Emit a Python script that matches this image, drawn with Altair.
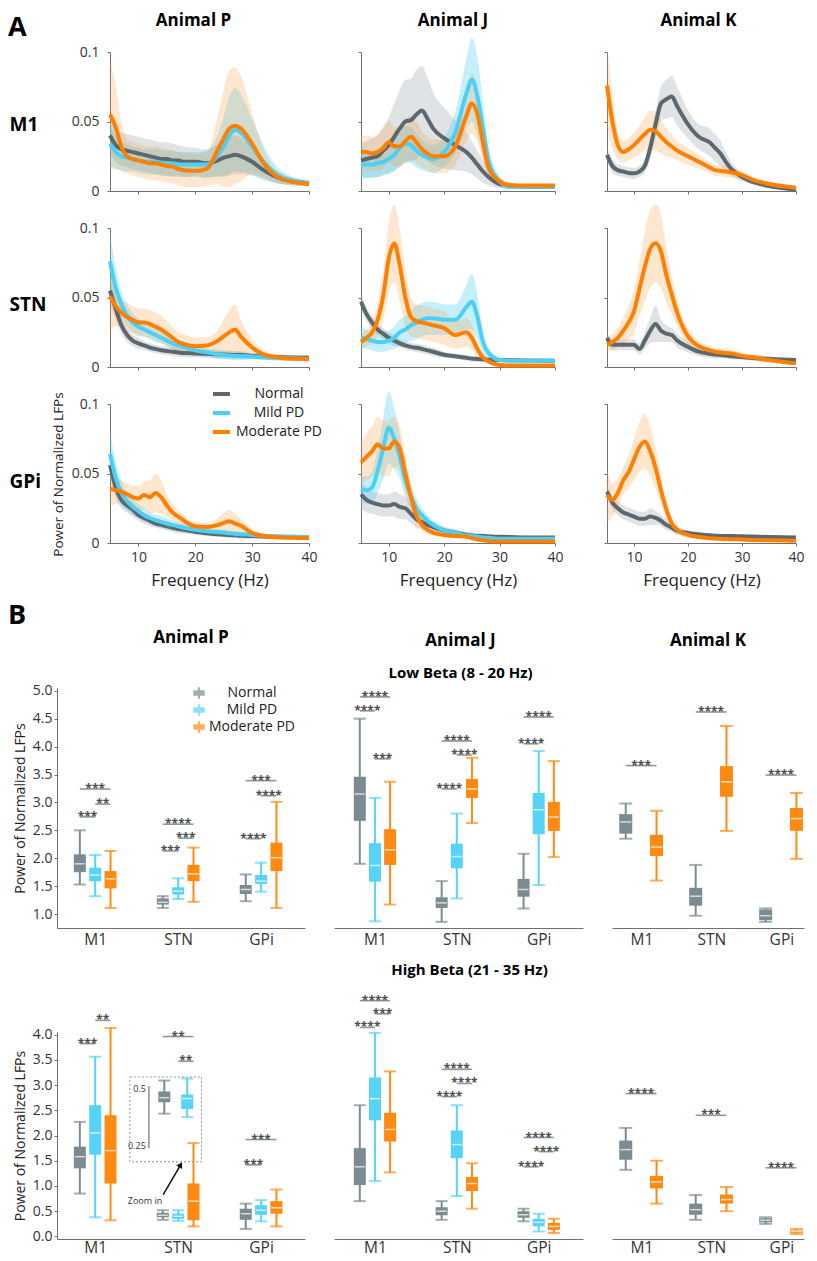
import altair as alt
import pandas as pd

FONT = "Open Sans"
GROUPS = ["Normal", "Mild PD", "Moderate PD"]
REGIONS = ["M1", "STN", "GPi"]
LINE_COLORS = {"Normal": "#5c686d", "Mild PD": "#4ccff4", "Moderate PD": "#ff7f00"}
BAND_COLORS = {"Normal": "#95a3a8", "Mild PD": "#4ccff4", "Moderate PD": "#ff9a35"}
BAND_OPACITY = {"Normal": 0.3, "Mild PD": 0.33, "Moderate PD": 0.24}
BOX_COLORS = {"Normal": "#7b8b90", "Mild PD": "#56d3f7", "Moderate PD": "#ff8a12"}

# ---------------- Panel A: spectra (mean and spread) ----------------
FREQ = [5, 6, 7, 8, 9, 10, 11, 12, 13, 14, 15, 16, 17, 18, 20, 22, 24, 25, 26, 27, 28, 30, 32, 35, 40]

P_M1_N = [0.040, 0.033, 0.030, 0.029, 0.028, 0.027, 0.026, 0.025, 0.024, 0.023, 0.023, 0.022, 0.022, 0.021, 0.021, 0.020, 0.022, 0.024, 0.025, 0.026, 0.025, 0.021, 0.015, 0.009, 0.0055]
P_M1_N_SD = [0.013, 0.012, 0.012, 0.012, 0.012, 0.012, 0.012, 0.012, 0.012, 0.012, 0.012, 0.012, 0.011, 0.011, 0.010, 0.010, 0.012, 0.013, 0.014, 0.014, 0.013, 0.010, 0.007, 0.004, 0.002]
P_M1_MI = [0.034, 0.028, 0.025, 0.024, 0.023, 0.022, 0.021, 0.021, 0.021, 0.0205, 0.020, 0.020, 0.019, 0.019, 0.019, 0.019, 0.026, 0.032, 0.040, 0.044, 0.042, 0.032, 0.021, 0.010, 0.0055]
P_M1_MI_SD = [0.015, 0.012, 0.010, 0.010, 0.009, 0.009, 0.009, 0.009, 0.009, 0.009, 0.009, 0.009, 0.009, 0.009, 0.009, 0.010, 0.015, 0.022, 0.028, 0.030, 0.028, 0.020, 0.012, 0.005, 0.002]
P_M1_MO = [0.055, 0.046, 0.032, 0.025, 0.023, 0.022, 0.021, 0.020, 0.020, 0.019, 0.018, 0.0175, 0.016, 0.015, 0.0145, 0.016, 0.030, 0.038, 0.045, 0.047, 0.045, 0.034, 0.020, 0.009, 0.005]
P_M1_MO_SD = [0.040, 0.030, 0.018, 0.012, 0.012, 0.012, 0.012, 0.012, 0.012, 0.012, 0.012, 0.012, 0.012, 0.012, 0.012, 0.012, 0.025, 0.035, 0.042, 0.042, 0.038, 0.022, 0.010, 0.004, 0.002]

J_M1_N = [0.022, 0.023, 0.024, 0.025, 0.029, 0.033, 0.039, 0.045, 0.050, 0.051, 0.055, 0.058, 0.052, 0.045, 0.038, 0.033, 0.028, 0.024, 0.019, 0.014, 0.010, 0.005, 0.004, 0.003, 0.003]
J_M1_N_SD = [0.012, 0.013, 0.014, 0.015, 0.017, 0.020, 0.024, 0.028, 0.030, 0.030, 0.032, 0.032, 0.030, 0.026, 0.022, 0.018, 0.014, 0.012, 0.010, 0.008, 0.006, 0.003, 0.002, 0.001, 0.001]
J_M1_MI = [0.019, 0.019, 0.019, 0.020, 0.021, 0.023, 0.026, 0.031, 0.034, 0.033, 0.029, 0.026, 0.024, 0.023, 0.028, 0.042, 0.070, 0.080, 0.068, 0.045, 0.022, 0.007, 0.003, 0.003, 0.003]
J_M1_MI_SD = [0.010, 0.010, 0.010, 0.010, 0.010, 0.011, 0.012, 0.013, 0.013, 0.013, 0.012, 0.011, 0.010, 0.010, 0.011, 0.015, 0.025, 0.030, 0.028, 0.020, 0.010, 0.004, 0.002, 0.001, 0.001]
J_M1_MO = [0.028, 0.028, 0.027, 0.028, 0.031, 0.035, 0.032, 0.032, 0.036, 0.039, 0.035, 0.030, 0.027, 0.025, 0.025, 0.032, 0.054, 0.063, 0.055, 0.035, 0.017, 0.007, 0.004, 0.004, 0.004]
J_M1_MO_SD = [0.012, 0.012, 0.012, 0.013, 0.014, 0.015, 0.014, 0.014, 0.015, 0.016, 0.015, 0.013, 0.012, 0.012, 0.012, 0.013, 0.018, 0.022, 0.020, 0.014, 0.008, 0.003, 0.002, 0.001, 0.001]

K_M1_N = [0.026, 0.018, 0.015, 0.014, 0.013, 0.0127, 0.014, 0.018, 0.031, 0.048, 0.063, 0.066, 0.068, 0.061, 0.048, 0.039, 0.035, 0.031, 0.027, 0.021, 0.016, 0.010, 0.0065, 0.0035, 0.001]
K_M1_N_SD = [0.005, 0.005, 0.004, 0.004, 0.004, 0.004, 0.004, 0.005, 0.008, 0.010, 0.012, 0.014, 0.015, 0.014, 0.010, 0.009, 0.010, 0.010, 0.009, 0.007, 0.005, 0.003, 0.002, 0.001, 0.001]
K_M1_MO = [0.076, 0.050, 0.033, 0.028, 0.030, 0.033, 0.037, 0.041, 0.044, 0.043, 0.039, 0.035, 0.032, 0.029, 0.025, 0.021, 0.017, 0.015, 0.0145, 0.014, 0.0135, 0.0115, 0.008, 0.005, 0.0024]
K_M1_MO_SD = [0.030, 0.020, 0.010, 0.008, 0.008, 0.009, 0.010, 0.012, 0.014, 0.014, 0.012, 0.010, 0.008, 0.007, 0.006, 0.005, 0.004, 0.004, 0.004, 0.004, 0.004, 0.003, 0.002, 0.002, 0.001]

P_STN_N = [0.055, 0.042, 0.030, 0.023, 0.019, 0.017, 0.0155, 0.014, 0.013, 0.012, 0.0115, 0.011, 0.0105, 0.010, 0.0098, 0.0095, 0.009, 0.009, 0.0088, 0.0086, 0.0086, 0.008, 0.0075, 0.007, 0.0067]
P_STN_N_SD = [0.010, 0.008, 0.006, 0.005, 0.004, 0.004, 0.003, 0.003, 0.003, 0.003, 0.003, 0.003, 0.003, 0.003, 0.003, 0.003, 0.003, 0.003, 0.003, 0.003, 0.003, 0.002, 0.002, 0.002, 0.002]
P_STN_MI = [0.076, 0.057, 0.045, 0.037, 0.032, 0.029, 0.027, 0.025, 0.023, 0.021, 0.019, 0.017, 0.0155, 0.0145, 0.012, 0.0105, 0.009, 0.0086, 0.0082, 0.008, 0.0078, 0.0075, 0.007, 0.0065, 0.006]
P_STN_MI_SD = [0.020, 0.015, 0.010, 0.008, 0.007, 0.006, 0.005, 0.005, 0.005, 0.004, 0.004, 0.004, 0.004, 0.004, 0.003, 0.003, 0.003, 0.003, 0.003, 0.003, 0.003, 0.002, 0.002, 0.002, 0.002]
P_STN_MO = [0.051, 0.044, 0.039, 0.036, 0.034, 0.032, 0.032, 0.031, 0.029, 0.027, 0.024, 0.021, 0.018, 0.0165, 0.015, 0.0155, 0.019, 0.022, 0.025, 0.027, 0.022, 0.014, 0.009, 0.0067, 0.0058]
P_STN_MO_SD = [0.025, 0.015, 0.010, 0.010, 0.010, 0.010, 0.010, 0.010, 0.010, 0.010, 0.009, 0.008, 0.007, 0.007, 0.006, 0.006, 0.008, 0.012, 0.016, 0.018, 0.012, 0.006, 0.003, 0.002, 0.002]

J_STN_N = [0.047, 0.038, 0.032, 0.027, 0.024, 0.021, 0.019, 0.017, 0.0155, 0.0145, 0.0138, 0.013, 0.012, 0.011, 0.0088, 0.0078, 0.0066, 0.006, 0.0058, 0.0055, 0.0052, 0.005, 0.0048, 0.0046, 0.0045]
J_STN_N_SD = [0.006, 0.005, 0.005, 0.004, 0.004, 0.004, 0.004, 0.003, 0.003, 0.003, 0.003, 0.003, 0.003, 0.003, 0.002, 0.002, 0.002, 0.002, 0.002, 0.002, 0.002, 0.001, 0.001, 0.001, 0.001]
J_STN_MI = [0.021, 0.020, 0.019, 0.018, 0.018, 0.019, 0.021, 0.025, 0.027, 0.030, 0.032, 0.034, 0.035, 0.035, 0.034, 0.034, 0.043, 0.047, 0.036, 0.018, 0.010, 0.005, 0.0045, 0.0045, 0.0045]
J_STN_MI_SD = [0.007, 0.007, 0.007, 0.007, 0.007, 0.007, 0.008, 0.009, 0.010, 0.011, 0.012, 0.012, 0.012, 0.012, 0.011, 0.011, 0.016, 0.020, 0.016, 0.008, 0.004, 0.002, 0.001, 0.001, 0.001]
J_STN_MO = [0.018, 0.021, 0.025, 0.034, 0.051, 0.078, 0.089, 0.073, 0.050, 0.036, 0.033, 0.032, 0.031, 0.030, 0.028, 0.023, 0.025, 0.021, 0.013, 0.007, 0.004, 0.0015, 0.001, 0.001, 0.001]
J_STN_MO_SD = [0.005, 0.006, 0.008, 0.012, 0.018, 0.025, 0.028, 0.026, 0.020, 0.014, 0.012, 0.012, 0.012, 0.012, 0.012, 0.010, 0.010, 0.009, 0.006, 0.003, 0.002, 0.001, 0.001, 0.001, 0.001]

K_STN_N = [0.021, 0.016, 0.016, 0.016, 0.016, 0.016, 0.013, 0.019, 0.026, 0.031, 0.026, 0.024, 0.023, 0.019, 0.0145, 0.011, 0.0095, 0.009, 0.0087, 0.0082, 0.0078, 0.0072, 0.0065, 0.0058, 0.005]
K_STN_N_SD = [0.004, 0.004, 0.004, 0.004, 0.004, 0.004, 0.004, 0.006, 0.009, 0.013, 0.008, 0.006, 0.005, 0.005, 0.004, 0.003, 0.003, 0.003, 0.002, 0.002, 0.002, 0.002, 0.002, 0.002, 0.001]
K_STN_MO = [0.016, 0.018, 0.021, 0.026, 0.032, 0.040, 0.056, 0.072, 0.085, 0.089, 0.083, 0.066, 0.052, 0.039, 0.022, 0.015, 0.012, 0.011, 0.0105, 0.010, 0.0098, 0.008, 0.007, 0.005, 0.0026]
K_STN_MO_SD = [0.005, 0.006, 0.007, 0.009, 0.012, 0.016, 0.020, 0.025, 0.028, 0.028, 0.026, 0.020, 0.014, 0.010, 0.006, 0.004, 0.003, 0.003, 0.003, 0.003, 0.003, 0.002, 0.002, 0.002, 0.001]

P_GPI_N = [0.056, 0.040, 0.031, 0.027, 0.024, 0.020, 0.018, 0.016, 0.014, 0.013, 0.012, 0.011, 0.010, 0.0095, 0.008, 0.007, 0.0063, 0.006, 0.0057, 0.0055, 0.0052, 0.005, 0.0047, 0.0045, 0.0043]
P_GPI_N_SD = [0.010, 0.008, 0.006, 0.005, 0.005, 0.004, 0.004, 0.004, 0.003, 0.003, 0.003, 0.003, 0.003, 0.003, 0.002, 0.002, 0.002, 0.002, 0.002, 0.002, 0.002, 0.002, 0.001, 0.001, 0.001]
P_GPI_MI = [0.064, 0.047, 0.036, 0.030, 0.026, 0.023, 0.020, 0.018, 0.0165, 0.0152, 0.014, 0.013, 0.012, 0.011, 0.0095, 0.0085, 0.0078, 0.0075, 0.007, 0.0066, 0.0063, 0.0058, 0.0052, 0.0047, 0.0043]
P_GPI_MI_SD = [0.016, 0.012, 0.009, 0.007, 0.006, 0.005, 0.005, 0.004, 0.004, 0.004, 0.004, 0.003, 0.003, 0.003, 0.003, 0.002, 0.002, 0.002, 0.002, 0.002, 0.002, 0.002, 0.001, 0.001, 0.001]
P_GPI_MO = [0.039, 0.038, 0.037, 0.035, 0.033, 0.032, 0.0345, 0.033, 0.036, 0.033, 0.027, 0.022, 0.019, 0.016, 0.012, 0.0115, 0.013, 0.0145, 0.0157, 0.014, 0.0125, 0.0072, 0.005, 0.004, 0.0036]
P_GPI_MO_SD = [0.012, 0.010, 0.008, 0.008, 0.008, 0.009, 0.010, 0.012, 0.014, 0.012, 0.008, 0.006, 0.005, 0.004, 0.003, 0.003, 0.005, 0.007, 0.008, 0.007, 0.005, 0.003, 0.002, 0.001, 0.001]

J_GPI_N = [0.035, 0.031, 0.029, 0.028, 0.027, 0.027, 0.028, 0.026, 0.025, 0.021, 0.017, 0.015, 0.013, 0.0115, 0.009, 0.0075, 0.006, 0.0055, 0.005, 0.005, 0.0047, 0.0045, 0.0043, 0.004, 0.004]
J_GPI_N_SD = [0.010, 0.009, 0.008, 0.008, 0.008, 0.008, 0.009, 0.009, 0.008, 0.007, 0.006, 0.005, 0.004, 0.004, 0.003, 0.002, 0.002, 0.002, 0.002, 0.002, 0.002, 0.001, 0.001, 0.001, 0.001]
J_GPI_MI = [0.039, 0.038, 0.040, 0.052, 0.068, 0.083, 0.075, 0.062, 0.045, 0.034, 0.025, 0.020, 0.016, 0.013, 0.009, 0.0075, 0.0055, 0.005, 0.0045, 0.004, 0.0037, 0.003, 0.003, 0.003, 0.003]
J_GPI_MI_SD = [0.010, 0.010, 0.012, 0.016, 0.022, 0.026, 0.022, 0.016, 0.012, 0.009, 0.007, 0.005, 0.004, 0.003, 0.002, 0.002, 0.001, 0.001, 0.001, 0.001, 0.001, 0.001, 0.001, 0.001, 0.001]
J_GPI_MO = [0.058, 0.062, 0.066, 0.071, 0.068, 0.068, 0.073, 0.068, 0.050, 0.033, 0.020, 0.013, 0.0095, 0.0075, 0.0058, 0.005, 0.0045, 0.0035, 0.0025, 0.002, 0.0015, 0.001, 0.001, 0.001, 0.001]
J_GPI_MO_SD = [0.015, 0.017, 0.018, 0.020, 0.020, 0.020, 0.018, 0.016, 0.013, 0.010, 0.006, 0.004, 0.003, 0.002, 0.002, 0.001, 0.001, 0.001, 0.001, 0.001, 0.001, 0.001, 0.001, 0.001, 0.001]

K_GPI_N = [0.037, 0.029, 0.025, 0.022, 0.0205, 0.019, 0.0175, 0.0175, 0.019, 0.018, 0.016, 0.013, 0.011, 0.0088, 0.0072, 0.0062, 0.0055, 0.0053, 0.0051, 0.005, 0.005, 0.0048, 0.0046, 0.0043, 0.004]
K_GPI_N_SD = [0.005, 0.005, 0.005, 0.005, 0.005, 0.005, 0.005, 0.005, 0.006, 0.005, 0.004, 0.004, 0.003, 0.003, 0.002, 0.002, 0.001, 0.001, 0.001, 0.001, 0.001, 0.001, 0.001, 0.001, 0.001]
K_GPI_MO = [0.0345, 0.031, 0.036, 0.045, 0.051, 0.060, 0.069, 0.073, 0.066, 0.054, 0.038, 0.024, 0.014, 0.0095, 0.0058, 0.0043, 0.0035, 0.0032, 0.003, 0.0028, 0.0027, 0.0025, 0.0022, 0.002, 0.0017]
K_GPI_MO_SD = [0.020, 0.012, 0.010, 0.010, 0.012, 0.015, 0.018, 0.020, 0.018, 0.015, 0.010, 0.007, 0.004, 0.003, 0.002, 0.001, 0.001, 0.001, 0.001, 0.001, 0.001, 0.001, 0.001, 0.001, 0.001]

SPECTRA = {
    ("P", "M1"): [("Normal", P_M1_N, P_M1_N_SD), ("Mild PD", P_M1_MI, P_M1_MI_SD), ("Moderate PD", P_M1_MO, P_M1_MO_SD)],
    ("J", "M1"): [("Normal", J_M1_N, J_M1_N_SD), ("Mild PD", J_M1_MI, J_M1_MI_SD), ("Moderate PD", J_M1_MO, J_M1_MO_SD)],
    ("K", "M1"): [("Normal", K_M1_N, K_M1_N_SD), ("Moderate PD", K_M1_MO, K_M1_MO_SD)],
    ("P", "STN"): [("Normal", P_STN_N, P_STN_N_SD), ("Mild PD", P_STN_MI, P_STN_MI_SD), ("Moderate PD", P_STN_MO, P_STN_MO_SD)],
    ("J", "STN"): [("Normal", J_STN_N, J_STN_N_SD), ("Mild PD", J_STN_MI, J_STN_MI_SD), ("Moderate PD", J_STN_MO, J_STN_MO_SD)],
    ("K", "STN"): [("Normal", K_STN_N, K_STN_N_SD), ("Moderate PD", K_STN_MO, K_STN_MO_SD)],
    ("P", "GPi"): [("Normal", P_GPI_N, P_GPI_N_SD), ("Mild PD", P_GPI_MI, P_GPI_MI_SD), ("Moderate PD", P_GPI_MO, P_GPI_MO_SD)],
    ("J", "GPi"): [("Normal", J_GPI_N, J_GPI_N_SD), ("Mild PD", J_GPI_MI, J_GPI_MI_SD), ("Moderate PD", J_GPI_MO, J_GPI_MO_SD)],
    ("K", "GPi"): [("Normal", K_GPI_N, K_GPI_N_SD), ("Moderate PD", K_GPI_MO, K_GPI_MO_SD)],
}

# ---------------- Panel B: box statistics (lo, q1, median, q3, hi) ----------------
P_LOW = [
    ("M1", "Normal", 1.53, 1.75, 1.90, 2.07, 2.50), ("M1", "Mild PD", 1.32, 1.59, 1.70, 1.83, 2.06), ("M1", "Moderate PD", 1.11, 1.46, 1.63, 1.77, 2.13),
    ("STN", "Normal", 1.11, 1.17, 1.21, 1.28, 1.32), ("STN", "Mild PD", 1.27, 1.35, 1.41, 1.48, 1.64), ("STN", "Moderate PD", 1.22, 1.59, 1.72, 1.88, 2.19),
    ("GPi", "Normal", 1.23, 1.36, 1.44, 1.52, 1.71), ("GPi", "Mild PD", 1.40, 1.54, 1.59, 1.70, 1.92), ("GPi", "Moderate PD", 1.11, 1.77, 2.01, 2.28, 3.01),
]
P_LOW_SIG = [
    ("M1", "Normal", "Moderate PD", 3.24, "***"), ("M1", "Mild PD", "Moderate PD", 2.97, "**"), ("M1", "Normal", "Mild PD", 2.74, "***"),
    ("STN", "Normal", "Moderate PD", 2.61, "****"), ("STN", "Mild PD", "Moderate PD", 2.36, "***"), ("STN", "Normal", "Mild PD", 2.13, "***"),
    ("GPi", "Normal", "Moderate PD", 3.39, "***"), ("GPi", "Mild PD", "Moderate PD", 3.12, "****"), ("GPi", "Normal", "Mild PD", 2.35, "****"),
]
J_LOW = [
    ("M1", "Normal", 1.90, 2.67, 3.15, 3.46, 4.50), ("M1", "Mild PD", 0.87, 1.58, 1.87, 2.27, 3.08), ("M1", "Moderate PD", 1.17, 1.88, 2.15, 2.52, 3.37),
    ("STN", "Normal", 0.86, 1.11, 1.20, 1.30, 1.59), ("STN", "Mild PD", 1.28, 1.82, 2.03, 2.26, 2.80), ("STN", "Moderate PD", 2.63, 3.08, 3.24, 3.42, 3.80),
    ("GPi", "Normal", 1.10, 1.31, 1.44, 1.63, 2.08), ("GPi", "Mild PD", 1.52, 2.43, 2.87, 3.17, 3.92), ("GPi", "Moderate PD", 2.02, 2.49, 2.74, 3.01, 3.74),
]
J_LOW_SIG = [
    ("M1", "Normal", "Moderate PD", 4.89, "****"), ("M1", "Normal", "Mild PD", 4.64, "****"), ("M1", "Mild PD", "Moderate PD", 3.78, "***"),
    ("STN", "Normal", "Moderate PD", 4.10, "****"), ("STN", "Mild PD", "Moderate PD", 3.85, "****"), ("STN", "Normal", "Mild PD", 3.24, "****"),
    ("GPi", "Normal", "Moderate PD", 4.53, "****"), ("GPi", "Normal", "Mild PD", 4.05, "****"),
]
K_LOW = [
    ("M1", "Normal", 2.35, 2.44, 2.65, 2.79, 2.98), ("M1", "Moderate PD", 1.60, 2.04, 2.20, 2.42, 2.85),
    ("STN", "Normal", 0.97, 1.15, 1.32, 1.47, 1.88), ("STN", "Moderate PD", 2.49, 3.10, 3.37, 3.65, 4.37),
    ("GPi", "Normal", 0.86, 0.89, 0.97, 1.08, 1.10), ("GPi", "Moderate PD", 1.99, 2.49, 2.71, 2.90, 3.17),
]
K_LOW_SIG = [("M1", "Normal", "Moderate PD", 3.66, "***"), ("STN", "Normal", "Moderate PD", 4.62, "****"), ("GPi", "Normal", "Moderate PD", 3.49, "****")]

P_HIGH = [
    ("M1", "Normal", 0.85, 1.35, 1.58, 1.78, 2.27), ("M1", "Mild PD", 0.38, 1.62, 2.05, 2.60, 3.56), ("M1", "Moderate PD", 0.32, 1.05, 1.70, 2.40, 4.13),
    ("STN", "Normal", 0.33, 0.38, 0.42, 0.47, 0.52), ("STN", "Mild PD", 0.31, 0.35, 0.40, 0.45, 0.52), ("STN", "Moderate PD", 0.20, 0.32, 0.70, 1.05, 1.85),
    ("GPi", "Normal", 0.15, 0.33, 0.45, 0.55, 0.65), ("GPi", "Mild PD", 0.30, 0.43, 0.52, 0.62, 0.72), ("GPi", "Moderate PD", 0.20, 0.45, 0.57, 0.70, 0.93),
]
P_HIGH_SIG = [
    ("M1", "Mild PD", "Moderate PD", 4.28, "**"), ("M1", "Normal", "Mild PD", 3.82, "***"),
    ("STN", "Normal", "Moderate PD", 3.96, "**"), ("STN", "Mild PD", "Moderate PD", 3.47, "**"),
    ("GPi", "Normal", "Moderate PD", 1.92, "***"), ("GPi", "Normal", "Mild PD", 1.42, "***"),
]
J_HIGH = [
    ("M1", "Normal", 0.70, 1.02, 1.38, 1.75, 2.60), ("M1", "Mild PD", 1.10, 2.30, 2.73, 3.15, 4.03), ("M1", "Moderate PD", 1.27, 1.88, 2.12, 2.45, 3.27),
    ("STN", "Normal", 0.33, 0.42, 0.50, 0.58, 0.70), ("STN", "Mild PD", 0.80, 1.55, 1.82, 2.10, 2.60), ("STN", "Moderate PD", 0.55, 0.90, 1.05, 1.18, 1.45),
    ("GPi", "Normal", 0.30, 0.37, 0.43, 0.50, 0.55), ("GPi", "Mild PD", 0.10, 0.20, 0.28, 0.35, 0.45), ("GPi", "Moderate PD", 0.07, 0.13, 0.20, 0.27, 0.35),
]
J_HIGH_SIG = [
    ("M1", "Normal", "Moderate PD", 4.67, "****"), ("M1", "Mild PD", "Moderate PD", 4.41, "***"), ("M1", "Normal", "Mild PD", 4.14, "****"),
    ("STN", "Normal", "Moderate PD", 3.31, "****"), ("STN", "Mild PD", "Moderate PD", 3.03, "****"), ("STN", "Normal", "Mild PD", 2.77, "****"),
    ("GPi", "Normal", "Moderate PD", 1.96, "****"), ("GPi", "Mild PD", "Moderate PD", 1.68, "****"), ("GPi", "Normal", "Mild PD", 1.38, "****"),
]
K_HIGH = [
    ("M1", "Normal", 1.32, 1.52, 1.72, 1.90, 2.15), ("M1", "Moderate PD", 0.65, 0.95, 1.08, 1.20, 1.50),
    ("STN", "Normal", 0.33, 0.43, 0.53, 0.65, 0.82), ("STN", "Moderate PD", 0.50, 0.65, 0.73, 0.83, 0.98),
    ("GPi", "Normal", 0.25, 0.28, 0.32, 0.36, 0.38), ("GPi", "Moderate PD", 0.05, 0.07, 0.10, 0.12, 0.15),
]
K_HIGH_SIG = [("M1", "Normal", "Moderate PD", 2.83, "****"), ("STN", "Normal", "Moderate PD", 2.40, "***"), ("GPi", "Normal", "Moderate PD", 1.36, "****")]

# zoomed inset of the P / STN high-beta boxes (inset axis 0.25 .. 0.5)
INSET_BOXES = [("Normal", 0.39, 0.44, 0.46, 0.487, 0.535), ("Mild PD", 0.375, 0.41, 0.456, 0.474, 0.544)]
INSET_TICKS = [0.25, 0.5]

# ---------------- layout constants ----------------
OFF3 = {"Normal": -0.185, "Mild PD": 0.0, "Moderate PD": 0.185}
OFF2 = {"Normal": -0.225, "Moderate PD": 0.215}
LOW_DOMAIN = [0.75, 5.05]
HIGH_DOMAIN = [-0.05, 4.05]
BOX_ICON = "M-1,-0.5H1V0.5H-1Z M-0.18,-1H0.18V-0.5H-0.18Z M-0.18,0.5H0.18V1H-0.18Z"
HA = 139


def grid(charts, columns, row_sp, col_sp):
    return alt.concat(*charts, columns=columns, spacing={"row": row_sp, "column": col_sp},
                      bounds="flush", align="each").resolve_scale(color="independent")


def spacer(title=None):
    props = dict(width=1, height=1)
    if title is not None:
        props["title"] = title
    return alt.Chart(pd.DataFrame({"v": [0]})).mark_point(opacity=0, size=0).properties(**props)


def spectra_panel(series, width, x_labels, y_labels, title=None, title_dx=0, row_label=None,
                  row_label_y=70, power_title=False, legend=None):
    H = HA
    xsc = alt.Scale(domain=[5, 40], nice=False, zero=False)
    ysc = alt.Scale(domain=[0, 0.1], nice=False, zero=False)
    xax = alt.Axis(values=[10, 20, 30, 40], labels=x_labels, tickSize=3, labelFlush=False,
                   title="Frequency (Hz)" if x_labels else None, labelFontSize=14, labelPadding=4,
                   titleFontSize=17, titleFontWeight="normal", titlePadding=8, grid=False)
    X = alt.X("freq:Q", scale=xsc, axis=xax)
    ykw = dict(values=[0, 0.05, 0.1], format="~g", labels=y_labels, tickSize=3, labelFontSize=14,
               labelPadding=8, grid=False, orient="left")
    rowkw = dict(titleAngle=0, titleX=-101, titleY=row_label_y, titleAlign="left", titleBaseline="middle",
                 titleFontSize=19, titleFontWeight="bold", titleColor="#000000")
    label_ax = None
    if power_title:
        main_ax = alt.Axis(title="Power of Normalized LFPs", titleAngle=270, titleX=-52, titleY=70,
                           titleAlign="center", titleBaseline="middle", titleFontSize=13.5,
                           titleFontWeight="normal", **ykw)
        label_ax = alt.Axis(title=row_label, domain=False, ticks=False, labels=False, grid=False,
                            orient="left", **rowkw)
    elif row_label:
        main_ax = alt.Axis(title=row_label, **ykw, **rowkw)
    else:
        main_ax = alt.Axis(title=None, **ykw)
    indep = label_ax is not None
    bands, lines = [], []
    top = 0.0
    for i, (g, mean, sd) in enumerate(series):
        df = pd.DataFrame({"freq": FREQ, "mean": mean,
                           "lo": [max(m - s, 0.0) for m, s in zip(mean, sd)],
                           "hi": [m + s for m, s in zip(mean, sd)], "group": g})
        top = max(top, df["hi"].max())
        if indep:
            bax = label_ax if i == 0 else None
            lax = main_ax if i == 0 else None
        else:
            bax = lax = main_ax
        bands.append(alt.Chart(df).mark_area(color=BAND_COLORS[g], opacity=BAND_OPACITY[g], interpolate="monotone")
                     .encode(x=X, y=alt.Y("lo:Q", scale=ysc, axis=bax), y2="hi:Q"))
        if legend is not None:
            ln = alt.Chart(df).mark_line(strokeWidth=4, interpolate="monotone").encode(
                x=X, y=alt.Y("mean:Q", scale=ysc, axis=lax),
                color=alt.Color("group:N", scale=alt.Scale(domain=GROUPS, range=[LINE_COLORS[k] for k in GROUPS]),
                                legend=legend))
        else:
            ln = alt.Chart(df).mark_line(strokeWidth=4, interpolate="monotone", color=LINE_COLORS[g]).encode(
                x=X, y=alt.Y("mean:Q", scale=ysc, axis=lax))
        lines.append(ln)
    ch = alt.layer(*bands, *lines)
    if indep:
        ch = ch.resolve_scale(y="independent")
    props = dict(width=width, height=H)
    if title:
        overflow = max((top - 0.1) / 0.1 * H, 7.0 if y_labels else 0.0, 0.0)
        props["title"] = alt.TitleParams(title, fontSize=17, fontWeight="bold", color="#000000",
                                         offset=22 - overflow, dx=title_dx, frame="group", anchor="middle",
                                         baseline="top")
    return ch.properties(**props)


def box_panel(boxes, sigs, offsets, xdomain, width, height, ydomain, yvalues=None, title=None,
              legend=None, box_size=12, inset=False, label_pad=4):
    rows = []
    for reg, grp, lo, q1, med, q3, hi in boxes:
        rows.append(dict(x=REGIONS.index(reg) + offsets[grp], group=grp, hex=BOX_COLORS[grp],
                         lo=lo, q1=q1, med=med, q3=q3, hi=hi))
    df = pd.DataFrame(rows)
    xsc = alt.Scale(domain=xdomain, nice=False, zero=False)
    ysc = alt.Scale(domain=ydomain, nice=False, zero=False)
    xax = alt.Axis(values=[0, 1, 2], labelExpr="['M1','STN','GPi'][datum.value]", ticks=False, title=None,
                   labelFontSize=15.5, labelPadding=label_pad, grid=False)
    if yvalues is not None:
        yax = alt.Axis(values=yvalues, format=".1f", tickSize=3, labelFontSize=14, labelPadding=2,
                       title="Power of Normalized LFPs", titleFontSize=14, titleFontWeight="normal",
                       titleAngle=270, titleX=-44, titleY=height / 2, titleAlign="center",
                       titleBaseline="top", grid=False)
    else:
        yax = None
    X = alt.X("x:Q", scale=xsc, axis=xax)

    def Y(f):
        return alt.Y(f, scale=ysc, axis=yax)

    col = alt.Color("hex:N", scale=None)
    layers = []

    def box_layers(d, size):
        b = alt.Chart(d)
        out = [
            b.mark_rule(strokeWidth=2).encode(x=X, y=Y("lo:Q"), y2="hi:Q", color=col),
            b.mark_tick(orient="horizontal", size=size, thickness=2).encode(x=X, y=Y("lo:Q"), color=col),
            b.mark_tick(orient="horizontal", size=size, thickness=2).encode(x=X, y=Y("hi:Q"), color=col),
        ]
        return b, out

    base, lyr = box_layers(df, box_size)
    layers += lyr
    if legend is not None:
        bcol = alt.Color("group:N", scale=alt.Scale(domain=GROUPS, range=[BOX_COLORS[k] for k in GROUPS]),
                         legend=legend)
    else:
        bcol = col
    layers.append(base.mark_bar(size=box_size, orient="vertical").encode(x=X, y=Y("q1:Q"), y2="q3:Q", color=bcol))
    layers.append(base.mark_tick(orient="horizontal", size=box_size - 2, thickness=1.5, color="white")
                  .encode(x=X, y=Y("med:Q")))

    srows = []
    for reg, g1, g2, yv, lab in sigs:
        x1 = REGIONS.index(reg) + offsets[g1]
        x2 = REGIONS.index(reg) + offsets[g2]
        srows.append(dict(x1=x1, x2=x2, xm=(x1 + x2) / 2, y=yv, label=lab))
    sdf = pd.DataFrame(srows)
    sb = alt.Chart(sdf)
    layers.append(sb.mark_rule(color="#8c9a9f", strokeWidth=1.6).encode(
        x=alt.X("x1:Q", scale=xsc, axis=xax), x2="x2:Q", y=Y("y:Q")))
    layers.append(sb.mark_text(fontSize=12, fontWeight="bold", color="#4d4d4d", baseline="alphabetic", dy=4)
                  .encode(x=alt.X("xm:Q", scale=xsc, axis=xax), y=Y("y:Q"), text="label:N"))

    if inset:
        y0, k = 1.80, 4.52  # inset axis mapping: 0.25 -> 1.80, slope 4.52 per unit
        ixs = {"Normal": 0.833, "Mild PD": 1.109}
        irows = []
        for grp, lo, q1, med, q3, hi in INSET_BOXES:
            m = lambda v: y0 + (v - 0.25) * k
            irows.append(dict(x=ixs[grp], hex=BOX_COLORS[grp], lo=m(lo), q1=m(q1), med=m(med), q3=m(q3), hi=m(hi)))
        idf = pd.DataFrame(irows)
        ib, ilyr = box_layers(idf, box_size)
        layers += ilyr
        layers.append(ib.mark_bar(size=box_size, orient="vertical").encode(x=X, y=Y("q1:Q"), y2="q3:Q", color=col))
        layers.append(ib.mark_tick(orient="horizontal", size=box_size - 2, thickness=1.5, color="white")
                      .encode(x=X, y=Y("med:Q")))
        fdf = pd.DataFrame([dict(x1=0.418, x2=1.282, y1=1.48, y2=3.16)])
        layers.append(alt.Chart(fdf).mark_rect(fillOpacity=0, stroke="#8c9a9f", strokeDash=[2, 2], strokeWidth=1)
                      .encode(x=alt.X("x1:Q", scale=xsc, axis=xax), x2="x2:Q", y=Y("y1:Q"), y2="y2:Q"))
        adf = pd.DataFrame([dict(x=0.648, y1=y0 + (INSET_TICKS[0] - 0.25) * k - 0.05,
                                 y2=y0 + (INSET_TICKS[1] - 0.25) * k + 0.05)])
        layers.append(alt.Chart(adf).mark_rule(color="#555555", strokeWidth=1)
                      .encode(x=alt.X("x:Q", scale=xsc, axis=xax), y=Y("y1:Q"), y2="y2:Q"))
        tdf = pd.DataFrame([dict(x=0.61, y=y0 + (t - 0.25) * k, label=f"{t:g}") for t in INSET_TICKS])
        layers.append(alt.Chart(tdf).mark_text(fontSize=9, color="#333333", align="right", baseline="middle")
                      .encode(x=alt.X("x:Q", scale=xsc, axis=xax), y=Y("y:Q"), text="label:N"))
        ardf = pd.DataFrame([dict(x1=0.82, y1=0.83, x2=1.03, y2=1.42)])
        layers.append(alt.Chart(ardf).mark_rule(color="#111111", strokeWidth=1.5)
                      .encode(x=alt.X("x1:Q", scale=xsc, axis=xax), x2="x2:Q", y=Y("y1:Q"), y2="y2:Q"))
        layers.append(alt.Chart(ardf).mark_point(shape="triangle-up", filled=True, size=45, angle=31,
                                                 color="#111111", opacity=1)
                      .encode(x=alt.X("x2:Q", scale=xsc, axis=xax), y=Y("y2:Q")))
        zdf = pd.DataFrame([dict(x=0.60, y=0.71, label="Zoom in")])
        layers.append(alt.Chart(zdf).mark_text(fontSize=9, color="#333333", align="center", baseline="middle")
                      .encode(x=alt.X("x:Q", scale=xsc, axis=xax), y=Y("y:Q"), text="label:N"))

    props = dict(width=width, height=height)
    if title is not None:
        props["title"] = title
    return alt.layer(*layers).properties(**props)


# ---------------- build panel A ----------------
WA = {"P": 199, "J": 194, "K": 189}
TDX_A = {"P": -16, "J": -5, "K": -3}
ROW_Y = {"M1": 72, "STN": 76, "GPi": 77}
legendA = alt.Legend(orient="none", legendX=101, legendY=-20.5, title=None, symbolType="stroke",
                     symbolStrokeWidth=4, symbolSize=289, labelFontSize=14, labelAlign="center",
                     labelOffset=47, rowPadding=0, padding=0, labelColor="#222222")
title_A = alt.TitleParams("A", anchor="start", frame="group", dx=-49, offset=10, fontSize=27,
                          fontWeight="bold", color="#000000", baseline="top")
title_B = alt.TitleParams("B", orient="bottom", anchor="start", frame="group", dx=-49, offset=197.5,
                          fontSize=27, fontWeight="bold", color="#000000", baseline="top")
cellsA = []
for reg in REGIONS:
    cellsA.append(spacer(title_A if reg == "M1" else (title_B if reg == "GPi" else None)))
    for an in ["P", "J", "K"]:
        cellsA.append(spectra_panel(
            SPECTRA[(an, reg)], WA[an], x_labels=(reg == "GPi"), y_labels=(an == "P"),
            title=("Animal " + an) if reg == "M1" else None, title_dx=TDX_A[an],
            row_label=reg if an == "P" else None, row_label_y=ROW_Y[reg],
            power_title=(an == "P" and reg == "GPi"),
            legend=legendA if (an == "P" and reg == "GPi") else None))
gridA = grid(cellsA, 4, 37, 52)

# ---------------- build panel B ----------------
def btitle(text, sub=" ", dx=0, offset=6):
    return alt.TitleParams(text, subtitle=sub, fontSize=17, fontWeight="bold", color="#000000",
                           subtitleFontSize=15, subtitleFontWeight="bold", subtitleColor="#000000",
                           subtitleFont=FONT, subtitlePadding=16.5, offset=offset, dx=dx, frame="group",
                           anchor="middle", baseline="top")

legendB = alt.Legend(orient="none", legendX=135, legendY=-2, title=None, symbolType=BOX_ICON, symbolSize=130,
                     symbolStrokeWidth=0, labelFontSize=14, labelAlign="center", labelOffset=46,
                     rowPadding=3, padding=0, labelColor="#222222")
LOW_TICKS = [1.0, 1.5, 2.0, 2.5, 3.0, 3.5, 4.0, 4.5, 5.0]
HIGH_TICKS = [0.0, 0.5, 1.0, 1.5, 2.0, 2.5, 3.0, 3.5, 4.0]
XD = {"P": [-0.40, 2.469], "J": [-0.439, 2.48], "K": [-0.35, 2.252]}
WB = {"P": 248, "J": 249, "K": 192}
H_LOW = 240
H_HIGH = 207

p_low = box_panel(P_LOW, P_LOW_SIG, OFF3, XD["P"], WB["P"], H_LOW, LOW_DOMAIN, yvalues=LOW_TICKS,
                  title=btitle("Animal P", dx=10, offset=4), legend=legendB)
j_low = box_panel(J_LOW, J_LOW_SIG, OFF3, XD["J"], WB["J"], H_LOW, LOW_DOMAIN,
                  title=btitle("Animal J", "Low Beta (8 - 20 Hz)", dx=2))
k_low = box_panel(K_LOW, K_LOW_SIG, OFF2, XD["K"], WB["K"], H_LOW, LOW_DOMAIN,
                  title=btitle("Animal K", dx=0), box_size=13)
p_high = box_panel(P_HIGH, P_HIGH_SIG, OFF3, XD["P"], WB["P"], H_HIGH, HIGH_DOMAIN, yvalues=HIGH_TICKS,
                   inset=True, label_pad=1)
j_high = box_panel(J_HIGH, J_HIGH_SIG, OFF3, XD["J"], WB["J"], H_HIGH, HIGH_DOMAIN, label_pad=1,
                   title=alt.TitleParams("High Beta (21 - 35 Hz)", fontSize=15, fontWeight="bold",
                                         color="#000000", offset=17, dx=11, frame="group", anchor="middle",
                                         baseline="top"))
k_high = box_panel(K_HIGH, K_HIGH_SIG, OFF2, XD["K"], WB["K"], H_HIGH, HIGH_DOMAIN, box_size=13, label_pad=1)

gridB = grid([p_low, j_low, k_low, p_high, j_high, k_high], 3, 104, 29)

chart = alt.vconcat(gridA, gridB, spacing=0).resolve_scale(color="independent").properties(
    padding={"top": 4, "right": 4, "left": 0, "bottom": 0}).configure(font=FONT).configure_view(
    stroke=None).configure_axis(
    grid=False, domainColor="#707070", tickColor="#707070", labelColor="#333333", titleColor="#222222",
    labelFont=FONT, titleFont=FONT, domainWidth=1).configure_title(font=FONT, subtitleFont=FONT).configure_legend(
    labelFont=FONT)

chart.save("out.html", embed_options={"renderer": "svg", "actions": False})
